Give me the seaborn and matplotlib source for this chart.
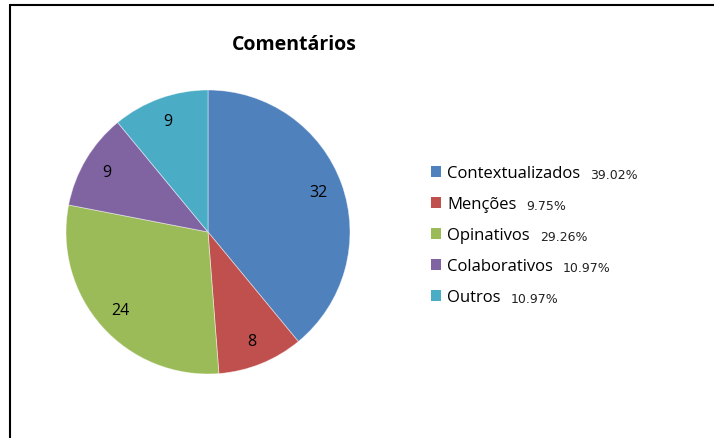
import matplotlib
matplotlib.use("Agg")
import matplotlib.pyplot as plt
from matplotlib.lines import Line2D
from matplotlib.patches import Patch
import seaborn as sns

categories = ["Contextualizados", "Menções", "Opinativos", "Colaborativos", "Outros"]
values = [32, 8, 24, 9, 9]
pct_labels = ["39.02%", "9.75%", "29.26%", "10.97%", "10.97%"]
colors = ["#4F81BD", "#C0504D", "#9BBB59", "#8064A2", "#4BACC6"]
title = "Comentários"

sns.set_theme(style="white")
plt.rcParams["font.family"] = ["Open Sans", "DejaVu Sans"]

W, H = 714, 439
fig = plt.figure(figsize=(W / 100, H / 100), dpi=100)

# pie axes: center (208,233), radius 142 px
cx, cy, r = 208, 233, 142
ax = fig.add_axes([(cx - r) / W, (H - cy - r) / H, 2 * r / W, 2 * r / H])
wedges, texts = ax.pie(values, colors=colors, startangle=90, counterclock=False,
                       labels=[str(v) for v in values], labeldistance=0.83,
                       wedgeprops=dict(linewidth=0.6, edgecolor=(1, 1, 1, 0.5)),
                       textprops=dict(fontsize=11.5, color="black"))
for t in texts:
    t.set_ha("center")
    t.set_va("center")
ax.set_xlim(-1, 1)
ax.set_ylim(-1, 1)
ax.set_aspect("equal")
ax.axis("off")

fig.text(294 / W, 1 - 45 / H, title, ha="center", va="center",
         fontsize=14, fontweight="bold", color="black")

handles = [Patch(facecolor=c, edgecolor="none") for c in colors]
leg = fig.legend(handles, categories, loc="upper left",
                 bbox_to_anchor=(423 / W, 1 - 158 / H), frameon=False,
                 fontsize=12, handlelength=0.6, handleheight=0.6,
                 handletextpad=0.35, labelspacing=0.90, borderpad=0)
for t in leg.get_texts():
    t.set_color("black")

fig.canvas.draw()
renderer = fig.canvas.get_renderer()
for txt, pct in zip(leg.get_texts(), pct_labels):
    bb = txt.get_window_extent(renderer)
    fig.text((bb.x1 + 10) / W, (bb.y0 + bb.y1) / 2 / H - 1 / H, pct, ha="left", va="center",
             fontsize=9, color="#222222", family=["DejaVu Sans"])

# outer border lines (top and left)
fig.add_artist(Line2D([10 / W, 1], [1 - 6 / H, 1 - 6 / H], color="black", lw=1.5,
                      transform=fig.transFigure))
fig.add_artist(Line2D([10 / W, 10 / W], [0, 1 - 6 / H], color="black", lw=1.5,
                      transform=fig.transFigure))

fig.savefig("out.png", dpi=100, facecolor="white")
